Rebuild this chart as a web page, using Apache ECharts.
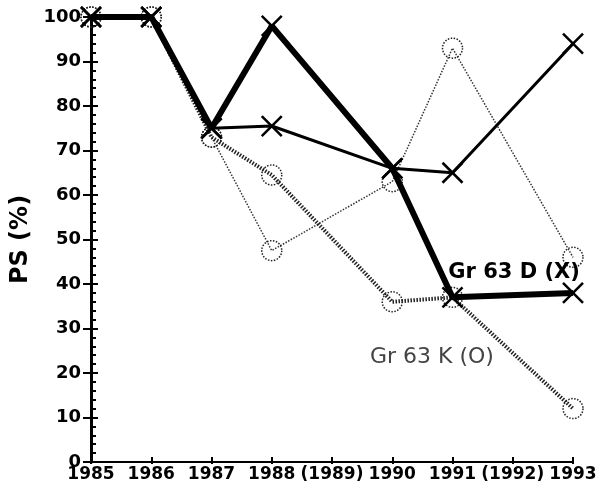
<!DOCTYPE html>
<html>
<head>
<meta charset="utf-8">
<script src="https://cdn.jsdelivr.net/npm/echarts@6/dist/echarts.min.js"></script>
<style>
  html, body { margin: 0; padding: 0; background: #fff; }
  #chart { width: 606px; height: 492px; }
</style>
</head>
<body>
<div id="chart"></div>
<script>
// years on the x axis, with the years that have no sample shown in brackets
var years = [1985, 1986, 1987, 1988, 1989, 1990, 1991, 1992, 1993];
var yearLabels = ['1985', '1986', '1987', '1988', '(1989)', '1990', '1991', '(1992)', '1993'];
var sampleYears = [1985, 1986, 1987, 1988, 1990, 1991, 1993];

// Gr 63 D (X), two curves
var d1 = [100, 100, 75, 98, 66, 37, 38];
var d2 = [100, 100, 75, 75.5, 66, 65, 94];
// Gr 63 K (O), two curves
var k1 = [100, 100, 73, 47.5, 63, 93, 46];
var k2 = [100, 100, 73, 64.5, 36, 37, 12];

function pairs(vals) {
  var out = [];
  for (var i = 0; i < sampleYears.length; ++i) {
    out.push([sampleYears[i], vals[i]]);
  }
  return out;
}

var crossPath = 'path://M0,0L10,10M10,0L0,10';
var font = 'DejaVu Sans';

var myChart = echarts.init(document.getElementById('chart'));
var option = {
  animation: false,
  grid: { left: 91, right: 33, top: 17, bottom: 30 },
  xAxis: [
    {
      type: 'value', min: 1985, max: 1993, interval: 1,
      axisLine: { lineStyle: { color: '#000', width: 2 } },
      axisTick: { inside: true, length: 5, lineStyle: { color: '#000', width: 2 } },
      axisLabel: {
        color: '#000', fontFamily: font, fontWeight: 'bold', fontSize: 17, margin: 4,
        formatter: function (v) { return yearLabels[years.indexOf(v)]; }
      },
      splitLine: { show: false }
    },
    {
      type: 'value', min: 1985, max: 1993, interval: 1, position: 'bottom',
      axisLine: { show: false },
      axisTick: { length: 2, lineStyle: { color: '#000', width: 2 } },
      axisLabel: { show: false },
      splitLine: { show: false }
    }
  ],
  yAxis: [
    {
      type: 'value', min: 0, max: 100, interval: 10,
      name: 'PS (%)', nameLocation: 'middle', nameGap: 58, nameRotate: 90,
      nameTextStyle: { color: '#000', fontFamily: font, fontSize: 24, fontWeight: 'bold' },
      axisLine: { show: true, lineStyle: { color: '#000', width: 3 } },
      axisTick: { length: 8, lineStyle: { color: '#000', width: 2 } },
      axisLabel: { color: '#000', fontFamily: font, fontWeight: 'bold', fontSize: 18, margin: 10 },
      splitLine: { show: false }
    },
    {
      type: 'value', min: 0, max: 100, interval: 10, position: 'left',
      axisLine: { show: false },
      axisTick: { inside: true, length: 7, lineStyle: { color: '#000', width: 2 } },
      minorTick: { show: true, splitNumber: 5, length: 5, lineStyle: { color: '#000', width: 2 } },
      axisLabel: { show: false },
      splitLine: { show: false }
    }
  ],
  series: [
    {
      name: 'k1', type: 'line', data: pairs(k1), z: 2,
      symbol: 'circle', symbolSize: 20,
      lineStyle: { color: '#333', width: 1.5, type: 'dotted' },
      itemStyle: { color: 'transparent', borderColor: '#222', borderWidth: 1.5, borderType: 'dotted' },
      markPoint: {
        symbolSize: 0,
        data: [{ coord: [1989.63, 23.6] }],
        label: {
          show: true, position: 'right', distance: 0, formatter: 'Gr 63 K (O)',
          color: '#444', fontFamily: font, fontSize: 22
        }
      }
    },
    {
      name: 'k2', type: 'line', data: pairs(k2), z: 3,
      symbol: 'circle', symbolSize: 20,
      lineStyle: { color: '#222', width: 4, type: [1.5, 1.5] },
      itemStyle: { color: 'transparent', borderColor: '#222', borderWidth: 1.5, borderType: 'dotted' }
    },
    {
      name: 'd2', type: 'line', data: pairs(d2), z: 4,
      symbol: crossPath, symbolSize: 20,
      lineStyle: { color: '#000', width: 3 },
      itemStyle: { color: 'none', borderColor: '#000', borderWidth: 2.5 }
    },
    {
      name: 'd1', type: 'line', data: pairs(d1), z: 5,
      symbol: crossPath, symbolSize: 20,
      lineStyle: { color: '#000', width: 6 },
      itemStyle: { color: 'none', borderColor: '#000', borderWidth: 2.5 },
      markPoint: {
        symbolSize: 0,
        data: [{ coord: [1990.93, 42.5] }],
        label: {
          show: true, position: 'right', distance: 0, formatter: 'Gr 63 D (X)',
          color: '#000', fontFamily: font, fontSize: 21, fontWeight: 'bold'
        }
      }
    }
  ]
};
myChart.setOption(option, true);
</script>
</body>
</html>
